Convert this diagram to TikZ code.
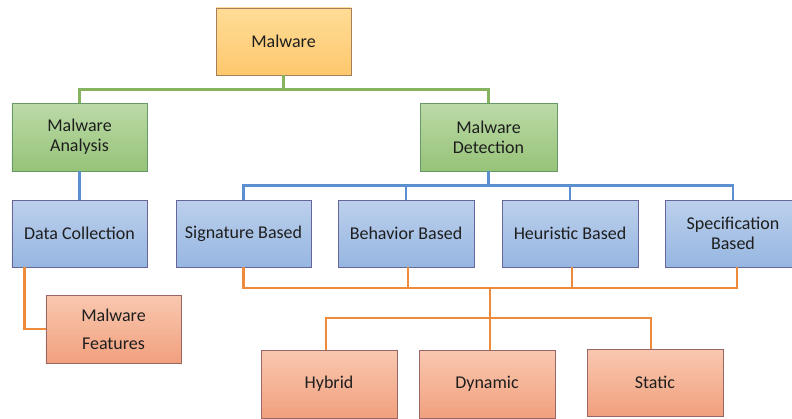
\documentclass[tikz,border=0pt]{standalone}
\usepackage{fontspec}
\setmainfont{Carlito}
\usetikzlibrary{shadings}
\definecolor{gline}{HTML}{86B35E}
\definecolor{bline}{HTML}{5B8FD0}
\definecolor{oline}{HTML}{EE8A3C}
\definecolor{txt}{HTML}{1E1E1E}
\tikzset{
  box/.style={draw=#1, line width=0.9bp, minimum height=67bp, inner sep=2bp,
    align=center, text=txt, font=\fontsize{18bp}{20bp}\selectfont},
  yellowbox/.style={box=gray!70!orange, top color={rgb,255:red,255;green,220;blue,150}, bottom color={rgb,255:red,253;green,200;blue,110}},
  greenbox/.style={box=gray!80!green, top color={rgb,255:red,188;green,218;blue,168}, bottom color={rgb,255:red,150;green,195;blue,120}},
  bluebox/.style={box=gray!80!blue, top color={rgb,255:red,188;green,208;blue,236}, bottom color={rgb,255:red,150;green,182;blue,225}},
  salmonbox/.style={box=gray!80!red, top color={rgb,255:red,249;green,200;blue,176}, bottom color={rgb,255:red,241;green,160;blue,125}},
  gconn/.style={draw=gline, line width=2.4bp},
  bconn/.style={draw=bline, line width=2.4bp},
  oconn/.style={draw=oline, line width=2.4bp},
}
\begin{document}
\begin{tikzpicture}[x=1bp,y=1bp]
\useasboundingbox[fill=white] (0,0) rectangle (792,418);
% nodes
\node[yellowbox, minimum width=135bp] (mal) at (283.5,376.5) {Malware};
\node[greenbox, minimum width=135bp, minimum height=68bp] (ana) at (79.5,281) {Malware\\Analysis};
\node[greenbox, minimum width=137bp, minimum height=68bp] (det) at (488.5,281) {Malware\\Detection};
\node[bluebox, minimum width=135bp] (dc) at (79.5,184.5) {Data Collection};
\node[bluebox, minimum width=135bp] (sig) at (243.5,184.5) {Signature Based};
\node[bluebox, minimum width=136bp] (beh) at (406,184.5) {Behavior Based};
\node[bluebox, minimum width=136bp] (heu) at (570,184.5) {Heuristic Based};
\node[bluebox, minimum width=136bp] (spec) at (733,184.5) {Specification\\Based};
\node[salmonbox, minimum width=135bp, minimum height=68bp, font=\fontsize{18bp}{28bp}\selectfont] (feat) at (113.5,89) {Malware\\Features};
\node[salmonbox, minimum width=136bp, minimum height=68bp] (hyb) at (329,34) {Hybrid};
\node[salmonbox, minimum width=136bp, minimum height=68bp] (dyn) at (487,34) {Dynamic};
\node[salmonbox, minimum width=136bp] (sta) at (655,35.5) {Static};
% green connectors
\draw[gconn] (mal.south) -- ++(0,-14) -| (ana.north);
\draw[gconn] (mal.south) -- ++(0,-14) -| (det.north);
% blue connectors
\draw[bconn] (ana.south) -- (dc.north);
\draw[bconn] (det.south) -- ++(0,-14) -| (sig.north);
\draw[bconn] (det.south) -- ++(0,-14) -| (beh.north);
\draw[bconn] (det.south) -- ++(0,-14) -| (heu.north);
\draw[bconn] (det.south) -- ++(0,-14) -| (spec.north);
% orange connectors
\coordinate (ob) at (490,130);
\coordinate (ob2) at (490,100);
\draw[oconn] (sig.south) |- (ob);
\draw[oconn] ([xshift=4]spec.south) |- (ob);
\draw[oconn] ([xshift=2]beh.south) -- ++(0,-21);
\draw[oconn] ([xshift=2]heu.south) -- ++(0,-21);
\draw[oconn] (ob) -- (ob2);
\draw[oconn] (ob2) -| ([xshift=-3]hyb.north);
\draw[oconn] (ob2) -| ([xshift=3]dyn.north);
\draw[oconn] (ob2) -| ([xshift=-4]sta.north);
\draw[oconn] ([xshift=13]dc.south west) |- (feat.west);
\end{tikzpicture}
\end{document}
